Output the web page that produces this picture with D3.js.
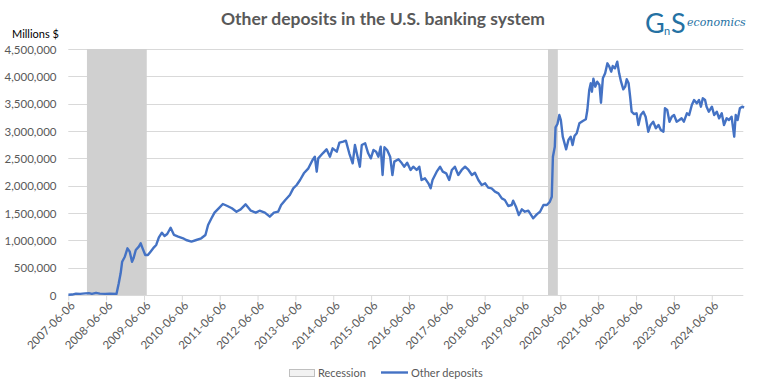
<!DOCTYPE html>
<html>
<head>
<meta charset="utf-8">
<script src="https://cdn.jsdelivr.net/npm/d3@7"></script>
<style>
  html, body { margin: 0; padding: 0; background: #fff; }
  svg { display: block; font-family: Lato, "Open Sans", sans-serif; }
</style>
</head>
<body>
<svg id="chart" width="768" height="392"></svg>
<script>
// ---- Data (decimal years, values in millions $) ----
const dates = [
  2007.43, 2007.53, 2007.63, 2007.74, 2007.87, 2007.97, 2008.05, 2008.16, 2008.26, 2008.40, 2008.53, 2008.70,
  2008.76, 2008.81, 2008.85, 2008.92, 2008.99, 2009.05, 2009.11, 2009.15, 2009.21, 2009.29, 2009.34, 2009.39,
  2009.46, 2009.53, 2009.60, 2009.69, 2009.75, 2009.82, 2009.90, 2009.97, 2010.04, 2010.13, 2010.22, 2010.33,
  2010.46, 2010.54, 2010.68, 2010.81, 2010.94, 2011.05, 2011.12, 2011.21, 2011.29, 2011.40, 2011.51, 2011.63,
  2011.75, 2011.87, 2011.98, 2012.11, 2012.25, 2012.38, 2012.48, 2012.62, 2012.75, 2012.86, 2012.97, 2013.05,
  2013.16, 2013.28, 2013.37, 2013.46, 2013.55, 2013.65, 2013.77, 2013.88, 2013.94, 2013.99, 2014.03, 2014.15,
  2014.25, 2014.34, 2014.41, 2014.52, 2014.59, 2014.69, 2014.76, 2014.85, 2014.94, 2015.00, 2015.07, 2015.13,
  2015.18, 2015.27, 2015.35, 2015.42, 2015.49, 2015.56, 2015.62, 2015.68, 2015.73, 2015.78, 2015.85, 2015.93,
  2015.99, 2016.04, 2016.15, 2016.24, 2016.30, 2016.38, 2016.47, 2016.54, 2016.63, 2016.70, 2016.76, 2016.85,
  2016.94, 2017.00, 2017.05, 2017.16, 2017.25, 2017.32, 2017.41, 2017.49, 2017.56, 2017.64, 2017.73, 2017.82,
  2017.91, 2018.00, 2018.09, 2018.17, 2018.26, 2018.35, 2018.44, 2018.52, 2018.61, 2018.70, 2018.79, 2018.88,
  2018.96, 2019.05, 2019.14, 2019.18, 2019.26, 2019.33, 2019.41, 2019.49, 2019.58, 2019.71, 2019.81, 2019.89,
  2019.98, 2020.07, 2020.15, 2020.20, 2020.23, 2020.28, 2020.30, 2020.35, 2020.40, 2020.44, 2020.49, 2020.58,
  2020.64, 2020.70, 2020.75, 2020.80, 2020.86, 2020.93, 2021.02, 2021.10, 2021.14, 2021.19, 2021.23, 2021.26,
  2021.30, 2021.35, 2021.40, 2021.46, 2021.50, 2021.55, 2021.61, 2021.67, 2021.72, 2021.77, 2021.81, 2021.87,
  2021.93, 2021.98, 2022.03, 2022.09, 2022.14, 2022.18, 2022.23, 2022.27, 2022.31, 2022.37, 2022.44, 2022.49,
  2022.55, 2022.62, 2022.68, 2022.75, 2022.81, 2022.88, 2022.95, 2023.02, 2023.08, 2023.15, 2023.19, 2023.25,
  2023.31, 2023.37, 2023.43, 2023.50, 2023.57, 2023.63, 2023.69, 2023.77, 2023.83, 2023.90, 2023.96, 2024.03,
  2024.09, 2024.14, 2024.19, 2024.25, 2024.29, 2024.35, 2024.43, 2024.49, 2024.56, 2024.62, 2024.69, 2024.75,
  2024.82, 2024.88, 2024.95, 2025.02, 2025.06, 2025.11, 2025.17, 2025.23, 2025.28
];
const otherDeposits = [
  5000, 8000, 25000, 20000, 30000, 35000, 20000, 40000, 25000, 20000, 25000, 20000,
  214000, 397000, 609000, 700000, 854000, 792000, 609000, 671000, 823000, 884000, 945000, 854000,
  732000, 732000, 792000, 872000, 915000, 1055000, 1140000, 1079000, 1116000, 1231000, 1098000, 1067000,
  1037000, 1006000, 976000, 1006000, 1037000, 1098000, 1280000, 1403000, 1506000, 1586000, 1665000, 1628000,
  1586000, 1524000, 1567000, 1659000, 1542000, 1506000, 1542000, 1506000, 1433000, 1506000, 1524000, 1646000,
  1738000, 1829000, 1951000, 2012000, 2104000, 2226000, 2317000, 2470000, 2530000, 2256000, 2500000, 2592000,
  2665000, 2530000, 2683000, 2622000, 2787000, 2805000, 2823000, 2592000, 2409000, 2744000, 2530000, 2347000,
  2744000, 2775000, 2592000, 2500000, 2653000, 2622000, 2530000, 2713000, 2195000, 2702000, 2653000, 2530000,
  2195000, 2439000, 2482000, 2409000, 2347000, 2420000, 2287000, 2347000, 2287000, 2347000, 2104000, 2134000,
  2043000, 1951000, 2104000, 2256000, 2347000, 2256000, 2226000, 2104000, 2287000, 2347000, 2195000, 2287000,
  2347000, 2287000, 2195000, 2237000, 2104000, 2012000, 2043000, 1963000, 1951000, 1890000, 1860000, 1768000,
  1738000, 1628000, 1646000, 1725000, 1604000, 1463000, 1567000, 1524000, 1542000, 1403000, 1480000, 1524000,
  1646000, 1646000, 1707000, 1798000, 2530000, 2713000, 3067000, 3128000, 3293000, 3201000, 2896000, 2665000,
  2835000, 2896000, 2744000, 2909000, 2958000, 3141000, 3183000, 3214000, 3384000, 3750000, 3872000, 3719000,
  3957000, 3811000, 3902000, 3842000, 3518000, 3963000, 4055000, 4238000, 4177000, 4085000, 4189000, 4147000,
  4268000, 4055000, 3902000, 3763000, 3811000, 3946000, 3872000, 3628000, 3353000, 3311000, 3324000, 3110000,
  3293000, 3353000, 3262000, 2987000, 3110000, 3170000, 3049000, 3110000, 3018000, 2987000, 3415000, 3384000,
  3170000, 3262000, 3293000, 3170000, 3201000, 3232000, 3170000, 3324000, 3293000, 3476000, 3567000, 3506000,
  3567000, 3445000, 3598000, 3567000, 3445000, 3353000, 3445000, 3293000, 3353000, 3232000, 3324000, 3110000,
  3232000, 3201000, 3262000, 2896000, 3293000, 3201000, 3415000, 3445000, 3427000
];
// Recession periods (decimal years)
const recessionStart = [2007.92, 2020.10];
const recessionEnd   = [2009.50, 2020.36];
// Axis ticks
const yTicks = [0, 500000, 1000000, 1500000, 2000000, 2500000, 3000000, 3500000, 4000000, 4500000];
const xTickYears = [2007.427, 2008.427, 2009.427, 2010.427, 2011.427, 2012.427, 2013.427, 2014.427, 2015.427,
                    2016.427, 2017.427, 2018.427, 2019.427, 2020.427, 2021.427, 2022.427, 2023.427, 2024.427];
const xTickLabels = ["2007-06-06","2008-06-06","2009-06-06","2010-06-06","2011-06-06","2012-06-06","2013-06-06",
  "2014-06-06","2015-06-06","2016-06-06","2017-06-06","2018-06-06","2019-06-06","2020-06-06","2021-06-06",
  "2022-06-06","2023-06-06","2024-06-06"];

// ---- Layout ----
const svg = d3.select("#chart");
const plot = { left: 68.3, right: 743.3, top: 49, bottom: 295 };
const x = d3.scaleLinear().domain([2007.427, 2025.26]).range([plot.left, plot.right]);
const y = d3.scaleLinear().domain([0, 4500000]).range([plot.bottom, plot.top]);
const textColor = "#595959";
const gridColor = "#d9d9d9";
const lineColor = "#4472C4";
const recColor = "#d0d0d0";

// Gridlines
svg.append("g").selectAll("line").data(yTicks.filter(d => d > 0)).join("line")
  .attr("x1", plot.left).attr("x2", plot.right)
  .attr("y1", d => Math.round(y(d)) + 0.5).attr("y2", d => Math.round(y(d)) + 0.5)
  .attr("stroke", gridColor).attr("stroke-width", 1);

// Recession shading
svg.append("g").selectAll("rect").data(recessionStart).join("rect")
  .attr("x", (d, i) => x(d))
  .attr("width", (d, i) => x(recessionEnd[i]) - x(d))
  .attr("y", y(4500000))
  .attr("height", y(0) - y(4500000))
  .attr("fill", recColor);

// Y axis labels
const yAxis = d3.axisLeft(y).tickValues(yTicks).tickSize(0).tickPadding(0)
  .tickFormat(d3.format(","));
const gy = svg.append("g").attr("transform", `translate(${56.5},0)`).call(yAxis);
gy.select(".domain").remove();
gy.selectAll("text").attr("fill", textColor).attr("font-size", "11.5px")
  .attr("font-family", "Lato, sans-serif").attr("dy", "0.35em");

// X axis
const xAxis = d3.axisBottom(x).tickValues(xTickYears).tickSize(5)
  .tickFormat((d, i) => xTickLabels[i]);
const gx = svg.append("g").attr("transform", `translate(0,${plot.bottom + 0.5})`).call(xAxis);
gx.select(".domain").attr("stroke", gridColor).attr("d", `M${plot.left},0H${plot.right}`);
gx.selectAll(".tick line").attr("stroke", gridColor);
gx.selectAll("text")
  .attr("fill", textColor).attr("font-size", "11.5px").attr("font-family", "Lato, sans-serif")
  .attr("text-anchor", "end")
  .attr("transform", "translate(4,8) rotate(-45)")
  .attr("dy", "0.35em").attr("y", 0).attr("x", 0);

// Line
const pts = dates.map((d, i) => [d, otherDeposits[i]]);
const line = d3.line().x(d => x(d[0])).y(d => y(d[1]));
svg.append("path").datum(pts)
  .attr("d", line).attr("fill", "none")
  .attr("stroke", lineColor).attr("stroke-width", 2.4)
  .attr("stroke-linejoin", "round");

// Title
svg.append("text").attr("x", 383).attr("y", 25).attr("text-anchor", "middle")
  .attr("font-family", "Lato, sans-serif").attr("font-weight", "bold").attr("font-size", "17.5px")
  .attr("fill", textColor).text("Other deposits in the U.S. banking system");

// Units label
svg.append("text").attr("x", 12).attr("y", 38).attr("font-size", "11px")
  .attr("font-family", "Lato, sans-serif").attr("fill", "#000").text("Millions $");

// Logo
const logo = svg.append("g").attr("fill", "#2471a3");
logo.append("text").attr("x", 645).attr("y", 33).attr("font-size", "27px")
  .attr("font-family", "Lato, sans-serif").text("G");
logo.append("text").attr("x", 664).attr("y", 35).attr("font-size", "11px")
  .attr("font-family", "Lato, sans-serif").text("n");
logo.append("text").attr("x", 671).attr("y", 33).attr("font-size", "27px")
  .attr("font-family", "Lato, sans-serif").text("S");
logo.append("text").attr("x", 687).attr("y", 26).attr("font-size", "11px")
  .attr("font-family", "'DejaVu Serif', 'Liberation Serif', serif").attr("font-style", "italic")
  .text("economics");

// Legend
const lg = svg.append("g");
lg.append("rect").attr("x", 289.5).attr("y", 369.5).attr("width", 25).attr("height", 7)
  .attr("fill", "#f2f2f2").attr("stroke", "#bfbfbf");
lg.append("text").attr("x", 318).attr("y", 377).attr("font-size", "11px")
  .attr("font-family", "Lato, sans-serif").attr("fill", textColor).text("Recession");
lg.append("line").attr("x1", 381).attr("x2", 408).attr("y1", 372.5).attr("y2", 372.5)
  .attr("stroke", lineColor).attr("stroke-width", 2.4);
lg.append("text").attr("x", 411).attr("y", 377).attr("font-size", "11px")
  .attr("font-family", "Lato, sans-serif").attr("fill", textColor).text("Other deposits");
</script>
</body>
</html>
